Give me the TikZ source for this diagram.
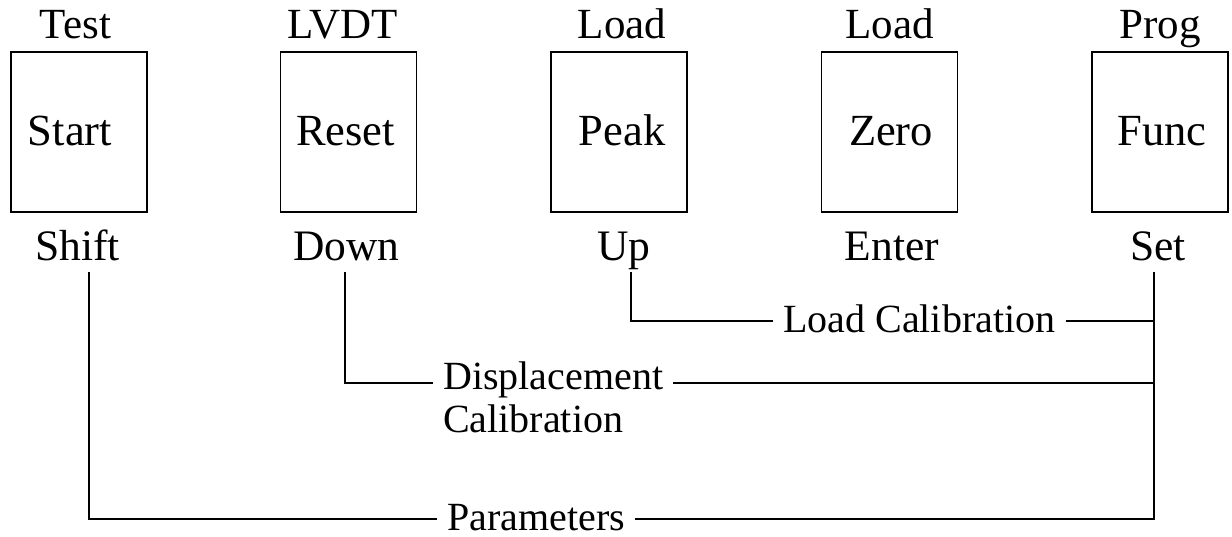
\documentclass[tikz,border=0pt]{standalone}
\usepackage{fontspec}
\setmainfont{Liberation Serif}
\begin{document}
\begin{tikzpicture}[x=1pt,y=-1pt,
  every node/.style={font=\fontsize{40}{43}\selectfont},
  keybox/.style={draw, line width=1.8pt, minimum width=136pt, minimum height=160pt, inner sep=0pt},
  keytxt/.style={inner sep=0pt, anchor=base, font=\fontsize{44.5}{48}\selectfont},
  toplbl/.style={inner sep=0pt, anchor=base, font=\fontsize{43}{48}\selectfont},
  botlbl/.style={inner sep=0pt, anchor=base, font=\fontsize{43.5}{48}\selectfont},
  clbl/.style={inner xsep=10pt, inner ysep=0pt, anchor=base west},
  wire/.style={line width=2.8pt}]
\useasboundingbox (0,0) rectangle (1232,537);
% keys
\node[keybox] (k1) at (79,132) {};
\node[keybox] (k2) at (348.5,132) {};
\node[keybox] (k3) at (619,132) {};
\node[keybox] (k4) at (889.5,132) {};
\node[keybox] (k5) at (1160,132) {};
\node[keytxt] (k1t) at (70,146) {Start};
\node[keytxt] (k2t) at (345.5,146) {Reset};
\node[keytxt] (k3t) at (622,146) {Peak};
\node[keytxt] (k4t) at (891,146) {Zero};
\node[keytxt] (k5t) at (1162,146) {Func};
% top labels
\node[toplbl] (t1) at (75.5,39) {Test};
\node[toplbl] (t2) at (342.5,39) {LVDT};
\node[toplbl] (t3) at (622,39) {Load};
\node[toplbl] (t4) at (889.5,39) {Load};
\node[toplbl] (t5) at (1160,39) {Prog};
% bottom labels
\node[botlbl] (s1) at (77.5,261) {Shift};
\node[botlbl] (s2) at (346.5,261) {Down};
\node[botlbl] (s3) at (624,261) {Up};
\node[botlbl] (s4) at (892,261) {Enter};
\node[botlbl] (s5) at (1158,261) {Set};
% function labels
\node[clbl] (lc) at (773,333) {Load Calibration};
\node[clbl] (dc1) at (433,389) {Displacement};
\node[clbl] (dc2) at (433,432) {Calibration};
\node[clbl] (par) at (437,530) {Parameters};
% connector points
\coordinate (shT) at (89,272);
\coordinate (dnT) at (345,272);
\coordinate (upT) at (631,272);
\coordinate (stT) at (1154,272);
\coordinate (rL) at (1154,321);
\coordinate (rD) at (1154,383);
\coordinate (rP) at (1154,519);
% connectors
\draw[wire] (upT) |- (lc.west |- rL);
\draw[wire] (lc.east |- rL) -- (rL);
\draw[wire] (dnT) |- (dc1.west |- rD);
\draw[wire] (dc1.east |- rD) -- (rD);
\draw[wire] (shT) |- (par.west |- rP);
\draw[wire] (par.east |- rP) -- (rP) -- (stT);
\end{tikzpicture}
\end{document}
